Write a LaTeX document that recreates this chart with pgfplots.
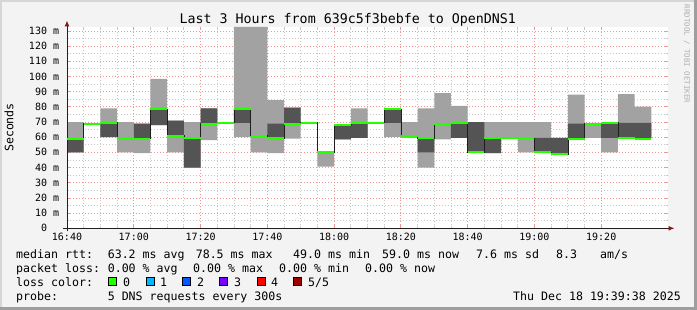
\documentclass[border=0pt]{standalone}
\usepackage{fontspec}
\setmainfont{DejaVu Sans Mono}
\usepackage{pgfplots}
\usepackage{pgfplotstable}
\pgfplotsset{compat=1.18}
\usepgfplotslibrary{fillbetween}
\usetikzlibrary{arrows.meta}

\definecolor{canvas}{RGB}{243,243,243}
\definecolor{bordlight}{RGB}{214,214,214}
\definecolor{borddark}{RGB}{158,158,158}
\definecolor{gridminor}{RGB}{200,200,200}
\definecolor{gridmajor}{RGB}{240,150,150}
\definecolor{smokelight}{RGB}{162,162,162}
\definecolor{smokedark}{RGB}{84,84,84}
\definecolor{lossgreen}{RGB}{38,255,0}
\definecolor{loss1}{RGB}{0,184,255}
\definecolor{loss2}{RGB}{0,89,255}
\definecolor{loss3}{RGB}{120,0,255}
\definecolor{loss4}{RGB}{255,0,0}
\definecolor{loss5}{RGB}{161,0,0}
\definecolor{arrowred}{RGB}{140,20,20}
\definecolor{axiscol}{RGB}{30,30,30}
\definecolor{rrdgray}{RGB}{175,175,175}

\newcommand\tickfont{\fontsize{10bp}{11bp}\selectfont}
\newcommand\lf{\fontsize{11.6bp}{13bp}\selectfont}

% x = start of 5-minute interval (minutes after 16:40); last row closes the step
\pgfplotstableread{
x   lo1   hi1    lo2   hi2   med
0   50    70     50    59    59
5   69    69     69    69    69
10  60    79     60    69    69.5
15  50    70     59.5  59.5  59.5
20  49.5  69     59.5  69    59
25  68    98.4   68    78.5  78.5
30  50    71     61    71    61
35  40    70     40    59.5  59.5
40  58    79     69    79    69
45  69.5  69.5   69.5  69.5  69.5
50  60    132.6  69.5  78.5  78.5
55  50    132.6  61    61    61
60  49.5  84.5   59.5  69    59.5
65  59    79.5   69    79.5  69
70  69.5  69.5   69.5  69.5  69.5
75  40.7  50     50    50    50
80  58.5  68     58.5  68    68
85  59.5  79     59.5  69.5  69.5
90  69.5  69.5   69.5  69.5  69.5
95  60    79     69.5  78.5  78.5
100 59.5  70     60.7  60.7  60.7
105 40    79     50    59.5  59.5
110 58.5  89     69    69    69
115 59.5  80.7   59.5  69.5  69.5
120 50    70     50    70    50
125 49.5  70     49.5  59.5  59.5
130 59.5  70     59.5  59.5  59.5
135 50    70     59.5  59.5  59.5
140 50    70     50    59.5  50
145 49    59.5   49    59.5  49
150 59    88     59    69    59
155 59.5  69.5   69    69    69
160 50    69.5   59.5  69    69.5
165 59.5  88.4   59.5  69.5  59.5
170 59.5  80.2   59.5  69.5  59
175 59.5  80.2   59.5  69.5  59
}\smoke

\pgfdeclareplotmark{hseg}{%
  \pgfpathmoveto{\pgfqpoint{-8.35bp}{0pt}}%
  \pgfpathlineto{\pgfqpoint{8.35bp}{0pt}}%
  \pgfusepathqstroke}

\begin{document}
\begin{tikzpicture}[x=1bp,y=1bp]
\path (0,0) rectangle (697,310);

\begin{axis}[
  at={(67bp,81.7bp)}, anchor=south west, scale only axis,
  width=601bp, height=201.3bp,
  xmin=0, xmax=180, ymin=0, ymax=132.6,
  clip=false,
  set layers,
  axis line style={draw=none},
  xtick={0,20,...,160},
  xticklabels={16:40,17:00,17:20,17:40,18:00,18:20,18:40,19:00,19:20},
  minor x tick num=3,
  ytick={0,10,...,130},
  yticklabels={0\hphantom{mm},10 m,20 m,30 m,40 m,50 m,60 m,70 m,80 m,90 m,100 m,110 m,120 m,130 m},
  minor y tick num=1,
  grid=both,
  major grid style={gridmajor, dash pattern=on 1bp off 2bp, line width=0.8bp},
  minor grid style={gridminor, dash pattern=on 1bp off 2bp, line width=0.8bp},
  tick align=inside, major tick length=3bp, minor tick length=2bp,
  major tick style={gridmajor, solid, line width=0.8bp},
  minor tick style={gridminor, solid, line width=0.8bp},
  xticklabel style={font=\tickfont, inner sep=0pt, anchor=base, yshift=-12.3bp},
  yticklabel style={font=\tickfont, inner sep=0pt, anchor=base east, xshift=-7.7bp, yshift=-3.6bp},
]
\begin{pgfonlayer}{axis background}
  \fill[canvas] ([xshift=-67bp,yshift=-81.7bp]rel axis cs:0,0) rectangle ([xshift=29bp,yshift=27bp]rel axis cs:1,1);
  \fill[bordlight] ([xshift=-67bp,yshift=25bp]rel axis cs:0,1) rectangle ([xshift=29bp,yshift=27bp]rel axis cs:1,1);
  \fill[bordlight] ([xshift=-67bp,yshift=-81.7bp]rel axis cs:0,0) rectangle ([xshift=-65bp,yshift=27bp]rel axis cs:0,1);
  \fill[borddark] ([xshift=-67bp,yshift=-81.7bp]rel axis cs:0,0) rectangle ([xshift=29bp,yshift=-78.7bp]rel axis cs:1,0);
  \fill[borddark] ([xshift=26bp,yshift=-81.7bp]rel axis cs:1,0) rectangle ([xshift=29bp,yshift=27bp]rel axis cs:1,1);
  \fill[white] (rel axis cs:0,0) rectangle (rel axis cs:1,1);
\end{pgfonlayer}
\addplot[name path=a, draw=none, const plot mark left] table[x=x,y=lo1]{\smoke};
\addplot[name path=b, draw=none, const plot mark left] table[x=x,y=hi1]{\smoke};
\addplot[fill=smokelight, draw=none] fill between[of=a and b];
\addplot[name path=c, draw=none, const plot mark left] table[x=x,y=lo2]{\smoke};
\addplot[name path=d, draw=none, const plot mark left] table[x=x,y=hi2]{\smoke};
\addplot[fill=smokedark, draw=none] fill between[of=c and d];
\addplot[axiscol, line width=0.6bp, const plot mark left] table[x=x,y=med]{\smoke};
\addplot[only marks, mark=hseg, mark options={lossgreen, line width=2bp},
  restrict x to domain=0:175] table[x expr=\thisrow{x}+2.5, y=med]{\smoke};
\draw[axiscol, line width=1bp, -{Latex[length=6bp,width=5bp,color=arrowred]}]
  ([xshift=-4bp]rel axis cs:0,0) -- ([xshift=6.5bp]rel axis cs:1,0);
\draw[axiscol, line width=1bp, -{Latex[length=6bp,width=5bp,color=arrowred]}]
  ([yshift=-3bp]rel axis cs:0,0) -- ([yshift=6.5bp]rel axis cs:0,1);
\end{axis}

% title, unit label, watermark
\node[anchor=base, font=\fontsize{13.3bp}{15bp}\selectfont, inner sep=0pt] at (347.8,286.5) {Last 3 Hours from 639c5f3bebfe to OpenDNS1};
\node[rotate=90, anchor=base, font=\lf, inner sep=0pt] at (13.3,182.5) {Seconds};
\node[rotate=-90, font=\fontsize{7.4bp}{8bp}\selectfont, text=rrdgray, inner sep=0pt] at (686.7,256) {RRDTOOL / TOBI OETIKER};

% legend rows
\begin{scope}[every node/.style={anchor=base west, font=\lf, inner sep=0pt}]
\node at (16,51.5) {median rtt:};
\node at (107.6,51.5) {63.2 ms avg};
\node at (195.6,51.5) {78.5 ms max};
\node at (293,51.5) {49.0 ms min};
\node at (382,51.5) {59.0 ms now};
\node at (476,51.5) {7.6 ms sd};
\node at (556,51.5) {8.3};
\node at (600,51.5) {am/s};

\node at (16,38) {packet loss:};
\node at (107.6,38) {0.00 \% avg};
\node at (193,38) {0.00 \% max};
\node at (279,38) {0.00 \% min};
\node at (365,38) {0.00 \% now};

\node at (16,24) {loss color:};
\node at (123,24) {0};
\node at (160,24) {1};
\node at (197,24) {2};
\node at (234,24) {3};
\node at (271,24) {4};
\node at (308,24) {5/5};

\node at (16,10) {probe:};
\node at (107.6,10) {5 DNS requests every 300s};
\node at (513,10) {Thu Dec 18 19:39:38 2025};
\end{scope}
\foreach \xx/\cc in {108.4/lossgreen,145.8/loss1,182.2/loss2,219.6/loss3,257/loss4,293.3/loss5}{
  \filldraw[fill=\cc, draw=black, line width=0.6bp] (\xx,24.3) rectangle ++(8,8);
}
\end{tikzpicture}
\end{document}
